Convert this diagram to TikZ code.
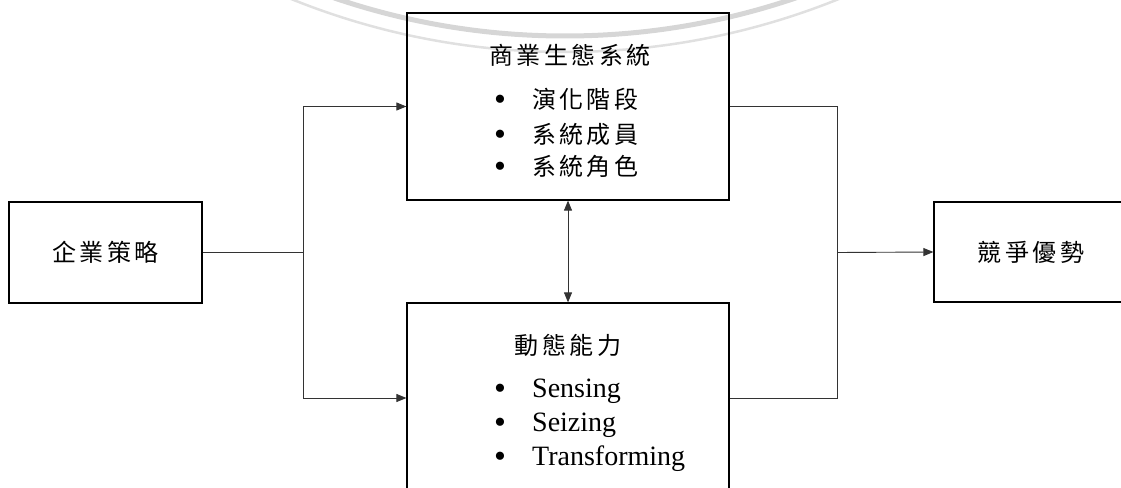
\documentclass[tikz,border=0pt]{standalone}
\usepackage{fontspec}
\setmainfont{Liberation Serif}
\newfontfamily\cjk{Noto Sans CJK TC}[LetterSpace=14]
\usetikzlibrary{arrows.meta}
\newcommand\mybul{\makebox[38pt][l]{\raisebox{-2.5pt}{\normalfont\fontsize{34}{34}\selectfont •}}}
\begin{document}
\begin{tikzpicture}[x=1pt,y=-1pt,
  box/.style={draw=black, line width=1.2pt, inner sep=0pt},
  conn/.style={draw=black!80, line width=0.9pt},
  tip/.style={-{Triangle[length=10pt,width=8pt]}},
  dtip/.style={{Triangle[length=10pt,width=8pt]}-{Triangle[length=10pt,width=8pt]}},
  zh/.style={font=\cjk\fontsize{24}{28}\selectfont, inner sep=0pt},
  en/.style={font=\fontsize{28}{32}\selectfont, inner sep=0pt},
  item/.style={anchor=base west}]
\useasboundingbox (0,0) rectangle (1121,487);
% watermark
\begin{scope}
\clip (0,0) rectangle (1121,487);
\draw[draw=black!16, line width=5pt] (565,-679) circle (715pt);
\draw[draw=black!12, line width=2.5pt] (565,-679) circle (731pt);
\end{scope}
% boxes
\node[box, zh, minimum width=193pt, minimum height=101pt] (strat) at (105.5,252.5) {企業策略};
\node[box, minimum width=322pt, minimum height=187pt] (eco) at (568,106.5) {};
\node[box, minimum width=322pt, minimum height=190pt] (dyn) at (568,398) {};
\node[box, zh, minimum width=194pt, minimum height=100pt] (adv) at (1031,252) {競爭優勢};
% eco texts
\node[zh] (ecoT) at (570,55) {商業生態系統};
\node[zh, item] (eco1) at (494,108) {\mybul 演化階段};
\node[zh, item] (eco2) at (494,143) {\mybul 系統成員};
\node[zh, item] (eco3) at (494,175) {\mybul 系統角色};
% dyn texts
\node[zh] (dynT) at (568,345) {動態能力};
\node[en, item] (dyn1) at (494,397) {\mybul Sensing};
\node[en, item] (dyn2) at (494,431) {\mybul Seizing};
\node[en, item] (dyn3) at (494,465) {\mybul Transforming};
% connectors
\coordinate (jl) at (303,252.5);
\coordinate (jr) at (837,252.5);
\draw[conn] (strat.east) -- (jl);
\draw[conn, tip] (jl) |- (eco.west);
\draw[conn, tip] (jl) |- (dyn.west);
\draw[conn] (eco.east) -| (jr);
\draw[conn] (dyn.east) -| (jr);
\draw[conn, tip] (jr) -- (adv.west);
\draw[conn, dtip] (eco.south) -- (dyn.north);
\end{tikzpicture}
\end{document}
